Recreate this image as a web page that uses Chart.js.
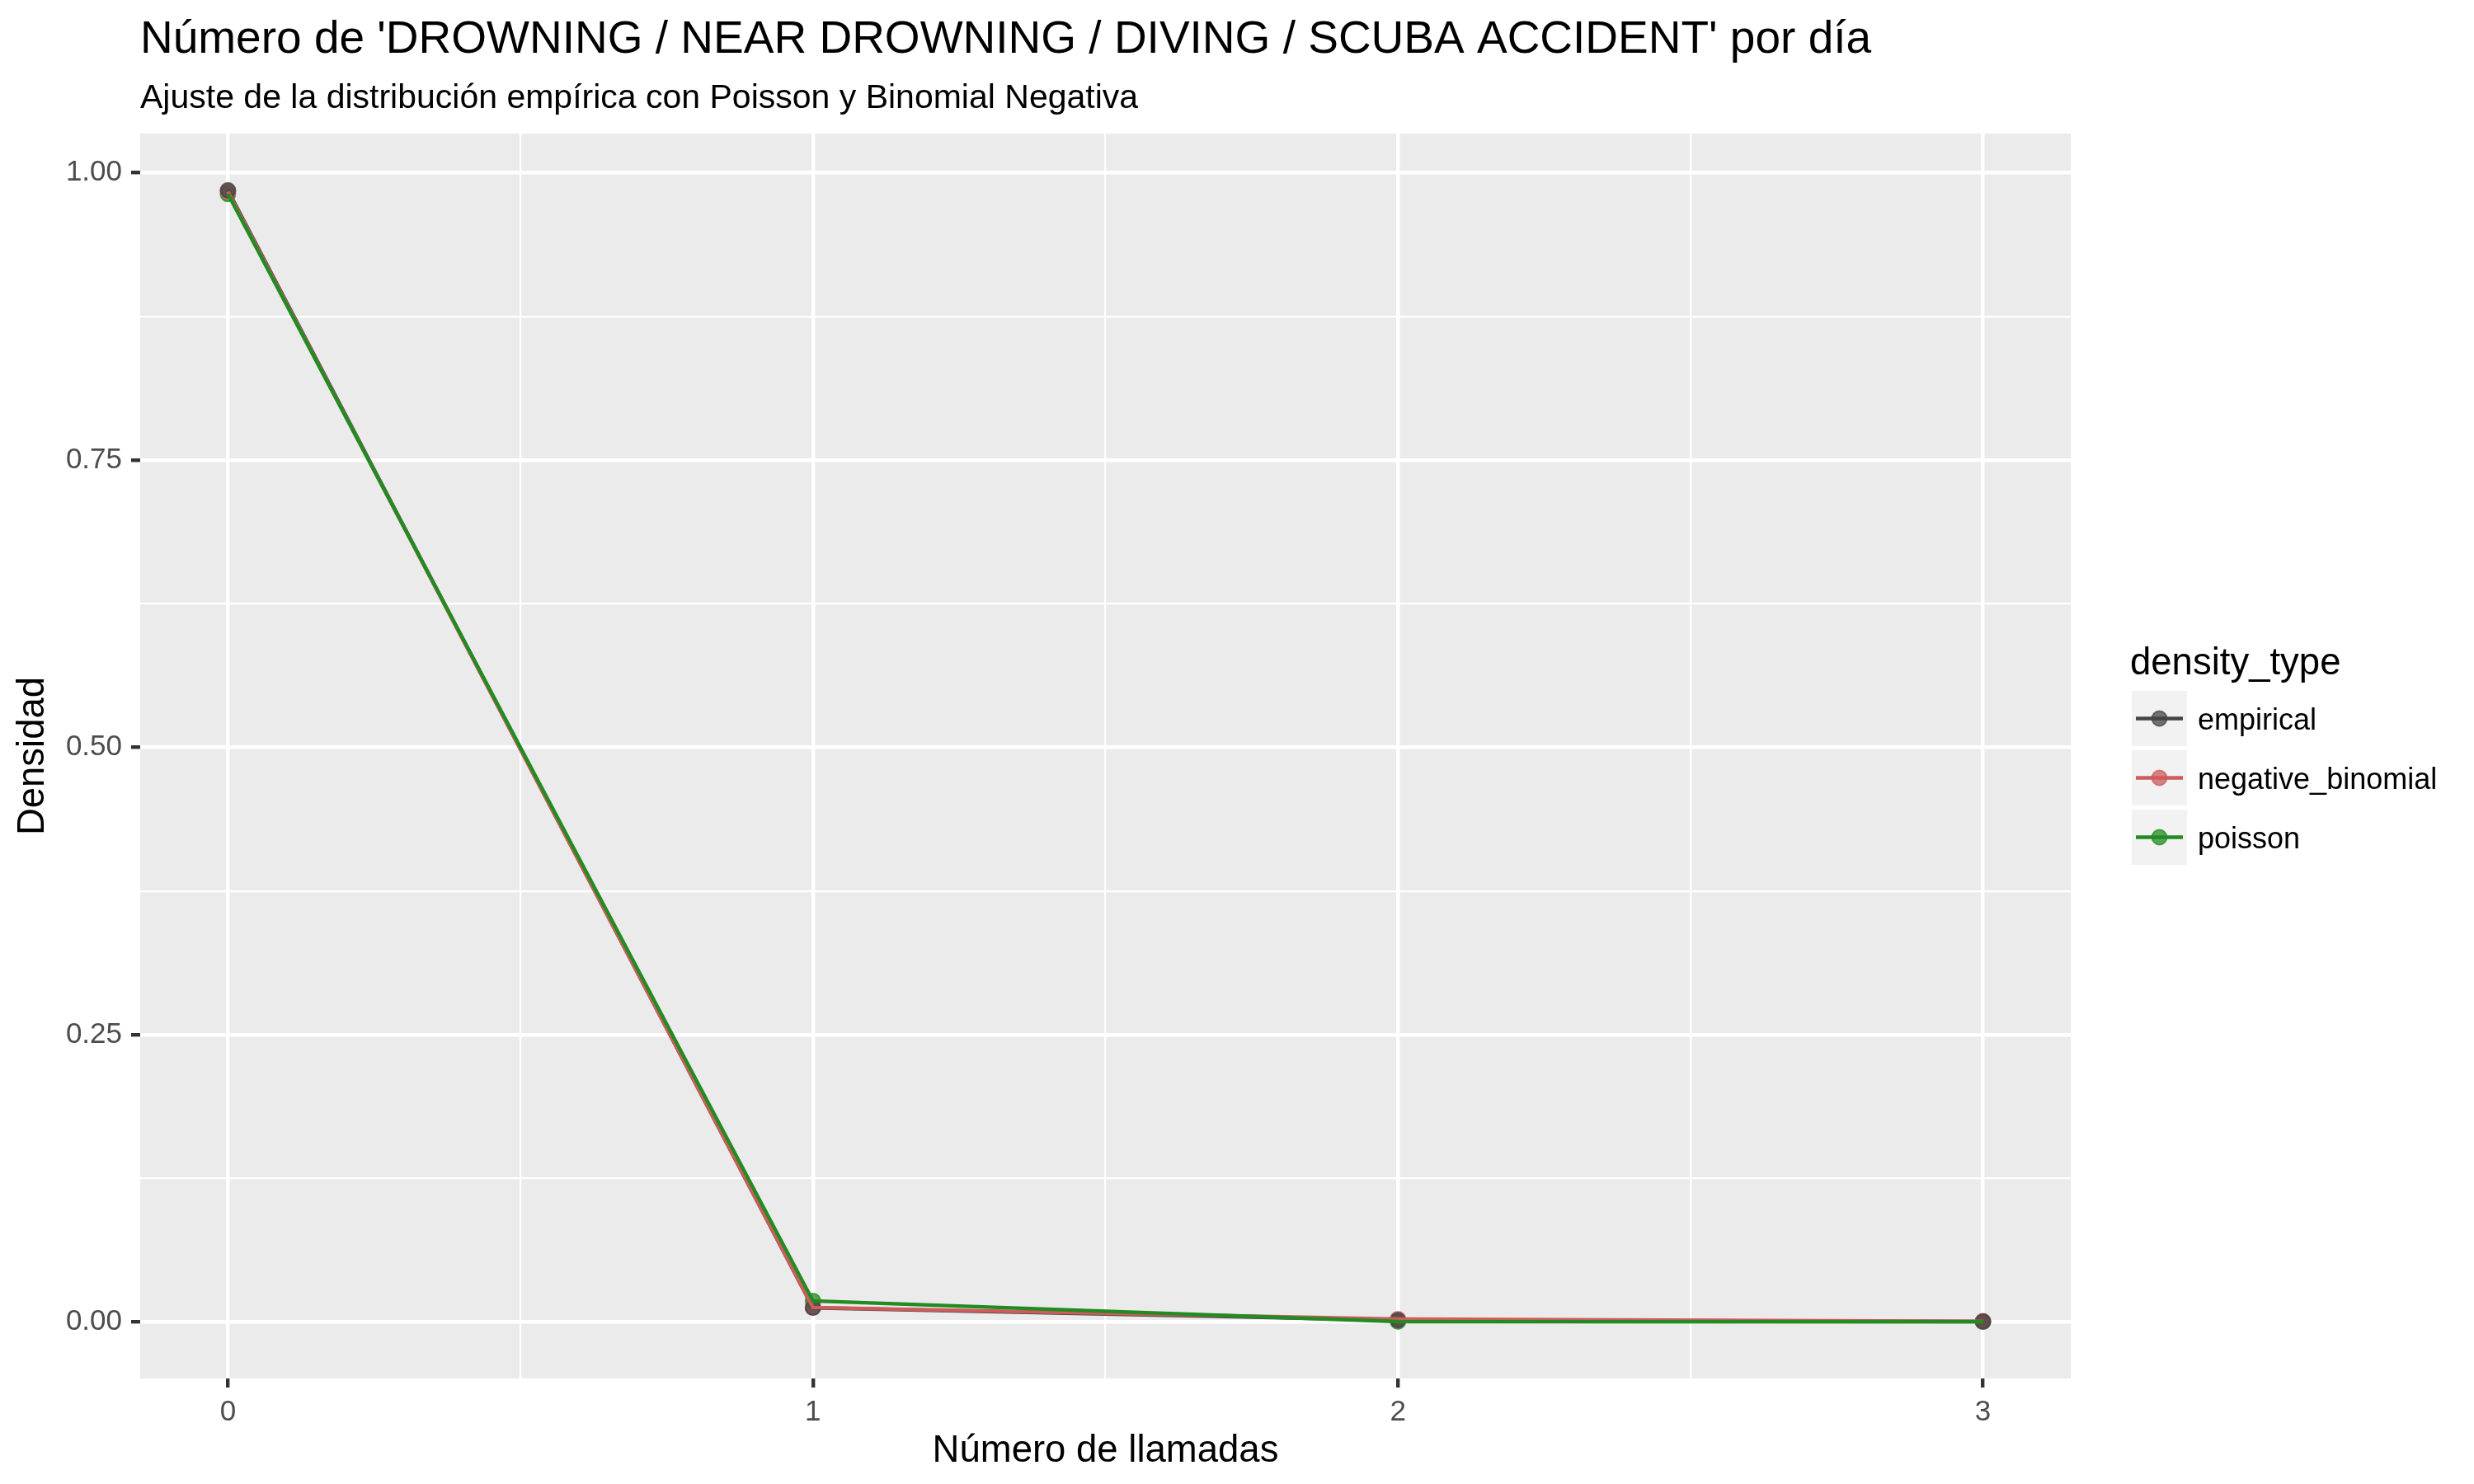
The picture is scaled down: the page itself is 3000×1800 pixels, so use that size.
<!DOCTYPE html>
<html>
<head>
<meta charset="utf-8">
<script src="https://cdn.jsdelivr.net/npm/chart.js@4.4.0/dist/chart.umd.min.js"></script>
<style>
  html, body { margin: 0; padding: 0; background: #ffffff; }
  #wrap { width: 3000px; height: 1800px; }
</style>
</head>
<body>
<div id="wrap"><canvas id="c" width="3000" height="1800"></canvas></div>
<script>
// ---------- data ----------
const titleText = "Número de 'DROWNING / NEAR DROWNING / DIVING / SCUBA ACCIDENT' por día";
const subtitleText = "Ajuste de la distribución empírica con Poisson y Binomial Negativa";
const xAxisTitle = "Número de llamadas";
const yAxisTitle = "Densidad";
const legendTitle = "density_type";

const calls = [0, 1, 2, 3];
const empirical = [0.9848, 0.0122, 0.0015, 0.0003];
const negativeBinomial = [0.9835, 0.0125, 0.0024, 0.0005];
const poisson = [0.9815, 0.0182, 0.0002, 0.0000];

const seriesNames = ["empirical", "negative_binomial", "poisson"];
const seriesColors = ["#444444", "#CD5C5C", "#228B22"];
const seriesPointColors = ["rgba(68,68,68,0.75)", "rgba(205,92,92,0.75)", "rgba(34,139,34,0.75)"];

const xMajorTicks = [0, 1, 2, 3];
const xMinorTicks = [0.5, 1.5, 2.5];
const xTickLabels = ["0", "1", "2", "3"];
const yMajorTicks = [0, 0.25, 0.5, 0.75, 1.0];
const yMinorTicks = [0.125, 0.375, 0.625, 0.875];
const yTickLabels = ["0.00", "0.25", "0.50", "0.75", "1.00"];

const xRange = [-0.15, 3.15];
const yRange = [-0.0493, 1.0341];

// ---------- helpers ----------
const FONT = "'Liberation Sans', Arial, Helvetica, sans-serif";
const seriesValues = [empirical, negativeBinomial, poisson];
const toPts = vals => calls.map((x, i) => ({ x: x, y: vals[i] }));
const isMajor = (list, v) => list.some(m => Math.abs(m - v) < 1e-9);

const lineOrder = [2, 1, 0];   // poisson line on top
const pointOrder = [3, 4, 5];  // empirical points on top of other points

const datasets = [];
seriesNames.forEach((name, i) => {
  datasets.push({
    label: name,
    data: toPts(seriesValues[i]),
    borderColor: seriesColors[i],
    borderWidth: 4.4,
    pointRadius: 0,
    pointHoverRadius: 0,
    fill: false,
    tension: 0,
    order: lineOrder[i]
  });
});
seriesNames.forEach((name, i) => {
  datasets.push({
    label: name + "_points",
    data: toPts(seriesValues[i]),
    showLine: false,
    borderColor: seriesPointColors[i],
    backgroundColor: seriesPointColors[i],
    borderWidth: 2,
    pointRadius: 9,
    pointHoverRadius: 9,
    order: pointOrder[i]
  });
});

const backgroundPlugin = {
  id: 'ggBackground',
  beforeDraw(chart) {
    const { ctx, chartArea: a } = chart;
    ctx.save();
    ctx.fillStyle = '#ffffff';
    ctx.fillRect(0, 0, chart.width, chart.height);
    ctx.fillStyle = '#EBEBEB';
    ctx.fillRect(a.left, a.top, a.right - a.left, a.bottom - a.top);
    ctx.restore();
  }
};

const titlePlugin = {
  id: 'ggTitles',
  afterDraw(chart) {
    const { ctx, chartArea: a } = chart;
    ctx.save();
    ctx.fillStyle = '#000000';
    ctx.textAlign = 'left';
    ctx.textBaseline = 'alphabetic';
    ctx.font = `55px ${FONT}`;
    ctx.fillText(titleText, a.left, 64);
    ctx.font = `41px ${FONT}`;
    ctx.fillText(subtitleText, a.left, 131);
    ctx.restore();
  }
};

const legendPlugin = {
  id: 'ggLegend',
  afterDraw(chart) {
    const { ctx } = chart;
    const x0 = 2585, keySize = 67, step = 72, firstTop = 838;
    ctx.save();
    ctx.fillStyle = '#000000';
    ctx.textAlign = 'left';
    ctx.textBaseline = 'alphabetic';
    ctx.font = `45.5px ${FONT}`;
    ctx.fillText(legendTitle, 2583, 818);
    seriesNames.forEach((name, i) => {
      const top = firstTop + i * step;
      const cy = top + keySize / 2;
      const cx = x0 + keySize / 2;
      ctx.fillStyle = '#F2F2F2';
      ctx.fillRect(x0, top, keySize, keySize);
      ctx.strokeStyle = seriesColors[i];
      ctx.lineWidth = 4.4;
      ctx.beginPath();
      ctx.moveTo(x0 + 5, cy);
      ctx.lineTo(x0 + keySize - 5, cy);
      ctx.stroke();
      ctx.beginPath();
      ctx.arc(cx, cy, 9, 0, Math.PI * 2);
      ctx.fillStyle = seriesPointColors[i];
      ctx.fill();
      ctx.lineWidth = 2;
      ctx.strokeStyle = seriesPointColors[i];
      ctx.stroke();
      ctx.fillStyle = '#000000';
      ctx.font = `36px ${FONT}`;
      ctx.textBaseline = 'alphabetic';
      ctx.fillText(name, 2665, cy + 13);
    });
    ctx.restore();
  }
};

Chart.defaults.font.family = FONT;

new Chart(document.getElementById('c'), {
  type: 'line',
  data: { datasets: datasets },
  options: {
    responsive: false,
    devicePixelRatio: 1,
    animation: false,
    events: [],
    layout: { padding: { left: 0, top: 162, right: 489, bottom: 0 } },
    plugins: {
      legend: { display: false },
      tooltip: { enabled: false },
      title: { display: false }
    },
    scales: {
      x: {
        type: 'linear',
        min: xRange[0],
        max: xRange[1],
        afterBuildTicks: s => { s.ticks = xMajorTicks.concat(xMinorTicks).sort((a, b) => a - b).map(v => ({ value: v })); },
        afterFit: s => { s.height = 128; },
        border: { display: false },
        grid: {
          color: '#FFFFFF',
          lineWidth: c => (c.tick && isMajor(xMajorTicks, c.tick.value)) ? 4.4 : 2.2,
          tickColor: c => (c.tick && isMajor(xMajorTicks, c.tick.value)) ? '#333333' : 'rgba(0,0,0,0)',
          tickWidth: 4.4,
          tickLength: 11,
          drawTicks: true
        },
        ticks: {
          autoSkip: false,
          maxRotation: 0,
          padding: 9,
          color: '#4D4D4D',
          font: { size: 35 },
          callback: v => { const k = xMajorTicks.findIndex(m => Math.abs(m - v) < 1e-9); return k >= 0 ? xTickLabels[k] : ''; }
        },
        title: {
          display: true,
          text: xAxisTitle,
          color: '#000000',
          font: { size: 45.5 },
          padding: { top: 0, bottom: 12 }
        }
      },
      y: {
        type: 'linear',
        min: yRange[0],
        max: yRange[1],
        afterBuildTicks: s => { s.ticks = yMajorTicks.concat(yMinorTicks).sort((a, b) => a - b).map(v => ({ value: v })); },
        afterFit: s => { s.width = 170; },
        border: { display: false },
        grid: {
          color: '#FFFFFF',
          lineWidth: c => (c.tick && isMajor(yMajorTicks, c.tick.value)) ? 4.4 : 2.2,
          tickColor: c => (c.tick && isMajor(yMajorTicks, c.tick.value)) ? '#333333' : 'rgba(0,0,0,0)',
          tickWidth: 4.4,
          tickLength: 11,
          drawTicks: true
        },
        ticks: {
          autoSkip: false,
          padding: 11,
          color: '#4D4D4D',
          font: { size: 35 },
          callback: v => { const k = yMajorTicks.findIndex(m => Math.abs(m - v) < 1e-9); return k >= 0 ? yTickLabels[k] : ''; }
        },
        title: {
          display: true,
          text: yAxisTitle,
          color: '#000000',
          font: { size: 45.5 },
          padding: { top: 13, bottom: 0 }
        }
      }
    }
  },
  plugins: [backgroundPlugin, titlePlugin, legendPlugin]
});
</script>
</body>
</html>
